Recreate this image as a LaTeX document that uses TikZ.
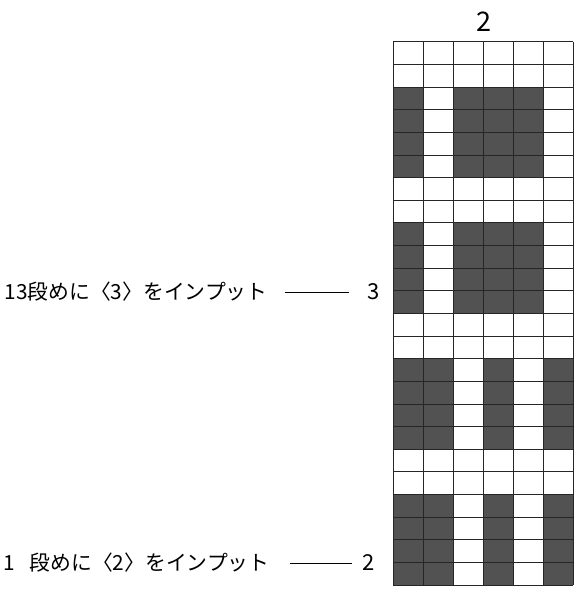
\documentclass[tikz,border=0pt]{standalone}
\usepackage{fontspec}
\newfontfamily\jpfont{Noto Sans CJK JP}
\usetikzlibrary{positioning}

\begin{document}
\begin{tikzpicture}[
    x=1pt, y=-1pt,
    cell/.style={fill=black!68},
    gridline/.style={line width=0.8pt, black!85},
    note/.style={font=\jpfont\fontsize{20.8}{24}\selectfont, inner sep=0pt},
    rownum/.style={font=\jpfont\fontsize{22}{24}\selectfont, inner sep=0pt},
    lead/.style={line width=0.7pt}
]
    \useasboundingbox (0,0) rectangle (575,589);

    % dark cells, rows counted from the bottom
    \foreach \r in {13,14,15,16,19,20,21,22}
        \foreach \c in {1,3,4,5}
            \fill[cell] (363+30*\c,585-22.64*\r) rectangle (393+30*\c,607.64-22.64*\r);
    \foreach \r in {1,2,3,4,7,8,9,10}
        \foreach \c in {1,2,4,6}
            \fill[cell] (363+30*\c,585-22.64*\r) rectangle (393+30*\c,607.64-22.64*\r);

    % grid
    \foreach \k in {0,...,24}
        \draw[gridline] (393,41.7+22.64*\k) -- (573,41.7+22.64*\k);
    \foreach \j in {0,...,6}
        \draw[gridline] (393+30*\j,41.7) -- (393+30*\j,585);

    \node[font=\jpfont\fontsize{27}{30}\selectfont, inner sep=0pt] (top) at (484,22) {2};

    \node[rownum] (n13) at (374,292) {3};
    \node[note, left=100pt of n13] (t13) {13段めに〈3〉をインプット};
    \node[rownum] (n1) at (369,563) {2};
    \node[note, left=93pt of n1] (t1) {1\hspace{0.7em}段めに〈2〉をインプット};

    \draw[lead, shorten <=17pt, shorten >=19pt] (t13.east) -- (n13.west);
    \draw[lead, shorten <=20pt, shorten >=11pt] (t1.east) -- (n1.west);
\end{tikzpicture}
\end{document}
